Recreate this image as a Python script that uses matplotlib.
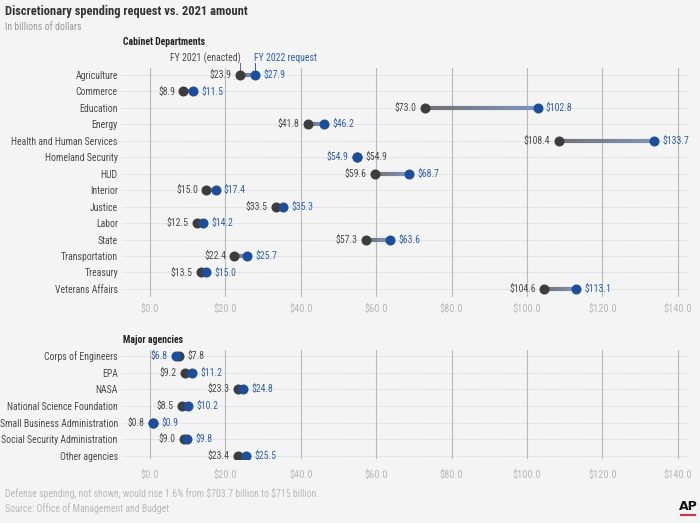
import numpy as np
import matplotlib.pyplot as plt
from matplotlib.collections import LineCollection
from matplotlib import font_manager

names = {f.name for f in font_manager.fontManager.ttflist}
FONT = "Liberation Sans"
for cand in ["Roboto Condensed", "Archivo Narrow", "Liberation Sans Narrow", "Open Sans Condensed"]:
    if cand in names:
        FONT = cand
        break
plt.rcParams["font.family"] = [FONT, "DejaVu Sans"]

cabinet = ["Agriculture", "Commerce", "Education", "Energy", "Health and Human Services",
           "Homeland Security", "HUD", "Interior", "Justice", "Labor", "State",
           "Transportation", "Treasury", "Veterans Affairs"]
cab_2021 = [23.9, 8.9, 73.0, 41.8, 108.4, 54.9, 59.6, 15.0, 33.5, 12.5, 57.3, 22.4, 13.5, 104.6]
cab_2022 = [27.9, 11.5, 102.8, 46.2, 133.7, 54.9, 68.7, 17.4, 35.3, 14.2, 63.6, 25.7, 15.0, 113.1]

agencies = ["Corps of Engineers", "EPA", "NASA", "National Science Foundation",
            "Small Business Administration", "Social Security Administration", "Other agencies"]
ag_2021 = [7.8, 9.2, 23.3, 8.5, 0.8, 9.0, 23.4]
ag_2022 = [6.8, 11.2, 24.8, 10.2, 0.9, 9.8, 25.5]

xticks = [0, 20, 40, 60, 80, 100, 120, 140]

BG = "#f4f4f4"
DARK = "#3d3d3d"
BLUE = "#1c4e9e"
BLUE_TXT = "#2f5fa8"
GRAY_TXT = "#4a4a4a"
FS = 7

fig = plt.figure(figsize=(7, 5.23), dpi=100, facecolor=BG)


def panel(ax, names_, v21, v22, ylim, tickpad):
    ax.set_facecolor(BG)
    ax.set_xlim(-7.4, 142.7)
    ax.set_ylim(*ylim)
    for s in ax.spines.values():
        s.set_visible(False)
    ax.set_xticks(xticks)
    ax.set_xticklabels(["$%.1f" % t for t in xticks], color="#b8b8b8", fontsize=7.5)
    ax.set_yticks(range(len(names_)))
    ax.set_yticklabels(names_, color=GRAY_TXT, fontsize=FS)
    ax.tick_params(length=0, pad=tickpad, axis="x")
    ax.tick_params(length=0, pad=3, axis="y")
    for t in xticks:
        ax.axvline(t, color="#b8b8b8", lw=0.8, zorder=1)
    for i in range(len(names_)):
        ax.axhline(i, color="#cfcfcf", lw=0.6, ls=(0, (1, 1)), zorder=0)
    c0 = np.array([0.45, 0.45, 0.45])
    c1 = np.array([0.50, 0.58, 0.74])
    for i, (a, b) in enumerate(zip(v21, v22)):
        xs = np.linspace(a, b, 21)
        segs = [[(xs[k], i), (xs[k + 1], i)] for k in range(20)]
        cols = [c0 + (c1 - c0) * k / 19 for k in range(20)]
        ax.add_collection(LineCollection(segs, colors=cols, linewidths=3.0, zorder=2, capstyle="butt"))
        ax.plot(a, i, "o", color=DARK, ms=6.2, zorder=3)
        ax.plot(b, i, "o", color=BLUE, ms=6.2, zorder=4)
        if a < b:
            left, right = (a, "$%.1f" % a, GRAY_TXT), (b, "$%.1f" % b, BLUE_TXT)
        else:
            left, right = (b, "$%.1f" % b, BLUE_TXT), (a, "$%.1f" % a, GRAY_TXT)
        ax.annotate(left[1], (left[0], i), xytext=(-6, 0), textcoords="offset points",
                    ha="right", va="center", fontsize=FS, color=left[2])
        ax.annotate(right[1], (right[0], i), xytext=(6, 0), textcoords="offset points",
                    ha="left", va="center", fontsize=FS, color=right[2])


ax1 = fig.add_axes([0.1743, 0.4321, 0.8086, 0.4379])
panel(ax1, cabinet, cab_2021, cab_2022, (13.49, -0.425), 5)
ax2 = fig.add_axes([0.1743, 0.1224, 0.8086, 0.2084])
panel(ax2, agencies, ag_2021, ag_2022, (6.18, -0.36), 8)

# column headers above the first row
ax1.text(cab_2021[0] + 0.2, -1.03, "FY 2021 (enacted)", ha="right", va="center",
         fontsize=FS, color=GRAY_TXT, clip_on=False)
ax1.text(cab_2022[0] - 0.3, -1.03, "FY 2022 request", ha="left", va="center",
         fontsize=FS, color=BLUE_TXT, clip_on=False)
ax1.plot([cab_2021[0], cab_2021[0]], [-0.75, -0.3], color="#666666", lw=0.7, clip_on=False)
ax1.plot([cab_2022[0], cab_2022[0]], [-0.75, -0.3], color=BLUE_TXT, lw=0.7, clip_on=False)

fig.text(5 / 700, 1 - 12 / 523, "Discretionary spending request vs. 2021 amount",
         fontsize=9, fontweight="bold", color="#333333", va="center")
fig.text(5 / 700, 1 - 27 / 523, "In billions of dollars", fontsize=FS, color="#999999", va="center")
fig.text(123 / 700, 1 - 42 / 523, "Cabinet Departments", fontsize=FS, fontweight="bold",
         color="#222222", va="center")
fig.text(123 / 700, 1 - 340 / 523, "Major agencies", fontsize=FS, fontweight="bold",
         color="#222222", va="center")
fig.text(5 / 700, 1 - 493 / 523,
         r"Defense spending, not shown, would rise 1.6% from \$703.7 billion to \$715 billion.",
         fontsize=FS, color="#b8b8b8", va="center")
fig.text(5 / 700, 1 - 509 / 523, "Source: Office of Management and Budget",
         fontsize=FS, color="#b8b8b8", va="center")
fig.text(688 / 700, 1 - 506 / 523, "AP", fontsize=9, fontweight="bold", color="#111111",
         ha="center", va="center", family="DejaVu Sans")
fig.add_artist(plt.Line2D([681 / 700, 695 / 700], [1 - 515 / 523, 1 - 515 / 523],
                          color="#d9304f", lw=1.5))

fig.savefig("out.png", dpi=100, facecolor=BG)
